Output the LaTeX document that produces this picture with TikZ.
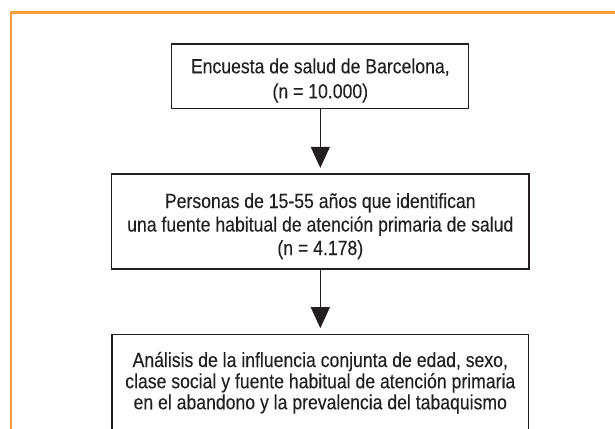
\documentclass[tikz,border=0pt]{standalone}
\usepackage{fontspec}
\setmainfont[FakeStretch=0.86,FakeBold=0.15]{Liberation Sans}
\usetikzlibrary{arrows.meta}
\definecolor{frameorange}{RGB}{247,158,56}
\definecolor{ink}{RGB}{35,31,32}
\begin{document}
\begin{tikzpicture}[x=1pt,y=-1pt,
  box/.style={draw=ink, line width=1.2pt, inner sep=0pt},
  txt/.style={inner sep=0pt, text=ink, anchor=base},
  flow/.style={draw=ink, line width=1.2pt, -{Triangle[width=19pt,length=21pt]}, shorten >=5.5pt}]
\useasboundingbox (0,0) rectangle (615,428);
\clip (0,0) rectangle (615,428);
\fill[white] (0,0) rectangle (615,428);
\draw[frameorange, line width=2.6pt] (10.8,440) -- (10.8,12.8) -- (630,12.8);
\node[box, minimum width=297pt, minimum height=64.3pt] (b1) at (320.3,76.2) {};
\node[box, minimum width=417.3pt, minimum height=95pt] (b2) at (320.3,221.5) {};
\node[box, minimum width=416.5pt, minimum height=150pt, anchor=north] (b3) at (320.3,333.7) {};
\node[txt, font=\fontsize{20.5}{25}\selectfont] (t1) at (320.3,73.3)
  {\begin{tabular}[t]{@{}c@{}}Encuesta de salud de Barcelona,\\(n = 10.000)\end{tabular}};
\node[txt, font=\fontsize{20.5}{23.5}\selectfont] (t2) at (320.3,208)
  {\begin{tabular}[t]{@{}c@{}}Personas de 15-55 años que identifican\\una fuente habitual de atención primaria de salud\\(n = 4.178)\end{tabular}};
\node[txt, font=\fontsize{20.5}{20.5}\selectfont] (t3) at (320.3,367)
  {\begin{tabular}[t]{@{}c@{}}Análisis de la influencia conjunta de edad, sexo,\\clase social y fuente habitual de atención primaria\\en el abandono y la prevalencia del tabaquismo\end{tabular}};
\draw[flow] (b1.south) -- (b2.north);
\draw[flow] (b2.south) -- (b3.north);
\end{tikzpicture}
\end{document}
